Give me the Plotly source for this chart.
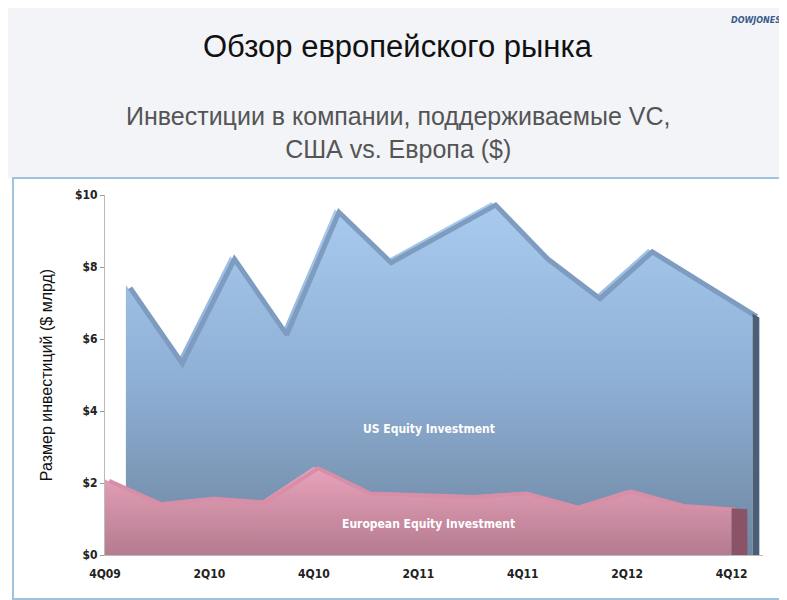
import plotly.graph_objects as go

quarters = ["4Q09","1Q10","2Q10","3Q10","4Q10","1Q11","2Q11","3Q11","4Q11","1Q12","2Q12","3Q12","4Q12"]
us_values = [7.5,5.4,8.3,6.2,9.6,8.2,9.0,9.8,8.3,7.2,8.5,7.6,6.7]
eu_values = [2.1,1.45,1.6,1.5,2.45,1.75,1.7,1.65,1.75,1.35,1.8,1.4,1.3]
tick_labels = ["4Q09","2Q10","4Q10","2Q11","4Q11","2Q12","4Q12"]
y_ticks = [0,2,4,6,8,10]
y_labels = ["$0","$2","$4","$6","$8","$10"]

n = len(quarters)
depth = 0.4
x_eu = list(range(n))
x_us = [i + depth for i in x_eu]

T, B = 187, 53
W, H = 658, 600 - T - B
fig = go.Figure()
fig.add_trace(go.Scatter(x=x_us, y=us_values, mode="lines", line=dict(color="#7a98b8", width=0),
    fill="tozeroy", fillgradient=dict(type="vertical", colorscale=[[0,"#6e86a0"],[0.5,"#8fb0d6"],[1,"#a9cbee"]]),
    hoverinfo="skip", showlegend=False))
fig.add_trace(go.Scatter(x=[v + 0.08 for v in x_us], y=[v - 0.08 for v in us_values], mode="lines",
    line=dict(color="#7d9cc0", width=5), hoverinfo="skip", showlegend=False))
fig.add_trace(go.Scatter(x=[x_us[-1], x_us[-1]+0.13, x_us[-1]+0.13, x_us[-1]], y=[us_values[-1], us_values[-1]-0.1, 0, 0],
    fill="toself", fillcolor="#4a5e78", line=dict(width=0), mode="lines", hoverinfo="skip", showlegend=False))
fig.add_trace(go.Scatter(x=x_eu, y=eu_values, mode="lines", line=dict(color="#c9829a", width=0),
    fill="tozeroy", fillgradient=dict(type="vertical", colorscale=[[0,"#b57b90"],[1,"#e8a3bb"]]),
    hoverinfo="skip", showlegend=False))
fig.add_trace(go.Scatter(x=[v + 0.08 for v in x_eu], y=[v - 0.04 for v in eu_values], mode="lines",
    line=dict(color="#d98ea8", width=4), hoverinfo="skip", showlegend=False))
fig.add_trace(go.Scatter(x=[x_eu[-1], x_eu[-1]+0.3, x_eu[-1]+0.3, x_eu[-1]], y=[eu_values[-1], eu_values[-1]-0.03, 0, 0],
    fill="toself", fillcolor="#8a5366", line=dict(width=0), mode="lines", hoverinfo="skip", showlegend=False))

lab_font = dict(color="white", size=12, family="DejaVu Sans Condensed")
fig.add_annotation(x=6.2, y=3.5, text="<b>US Equity Investment</b>", showarrow=False, font=lab_font)
fig.add_annotation(x=6.2, y=0.85, text="<b>European Equity Investment</b>", showarrow=False, font=lab_font)

tick_font = dict(family="DejaVu Sans Condensed", size=12, color="#222", weight="bold")
fig.update_layout(
    width=787, height=600, paper_bgcolor="white", plot_bgcolor="white",
    margin=dict(l=97, r=32, t=T, b=B, autoexpand=False),
    xaxis=dict(range=[0, n - 1 + 0.6], tickvals=list(range(0, n, 2)), ticktext=tick_labels,
               showgrid=False, zeroline=False, showline=True, linecolor="#bbb", ticks="outside", ticklen=8,
               tickcolor="rgba(0,0,0,0)", tickfont=tick_font),
    yaxis=dict(range=[0, 10], tickvals=y_ticks, ticktext=y_labels, showgrid=False, zeroline=False,
               showline=True, linecolor="#bbb", ticks="outside", ticklen=4, tickcolor="#999", tickfont=tick_font,
               title=dict(text="Размер инвестиций ($ млрд)", font=dict(family="Liberation Sans", size=16, color="#111"), standoff=18)),
)
fig.add_shape(type="rect", xref="paper", yref="paper", x0=-97/W, x1=1+32/W, y0=1+17/H, y1=1+T/H,
              fillcolor="#f2f4f8", line=dict(width=0), layer="below")
fig.add_shape(type="rect", xref="paper", yref="paper", x0=-92/W, x1=1+27/W, y0=-44/H, y1=1+17/H,
              fillcolor="rgba(0,0,0,0)", line=dict(color="#9fc3df", width=2))
fig.add_annotation(xref="paper", yref="paper", x=(390-97)/W, y=1+(T-38)/H, text="Обзор европейского рынка", showarrow=False,
                   font=dict(family="Liberation Sans", size=31, color="#111"), yanchor="middle")
fig.add_annotation(xref="paper", yref="paper", x=(390-97)/W, y=1+(T-125)/H, text="Инвестиции в компании, поддерживаемые VC,<br>США vs. Европа ($)",
                   showarrow=False, font=dict(family="Liberation Sans", size=25, color="#555"), yanchor="middle")
fig.add_annotation(xref="paper", yref="paper", x=1+20/W, y=1+(T-6)/H, text="<b><i>DOWJONES</i></b>", showarrow=False,
                   font=dict(family="DejaVu Sans", size=8, color="#3a5a8a"), xanchor="right")

fig.write_html("out.html")
